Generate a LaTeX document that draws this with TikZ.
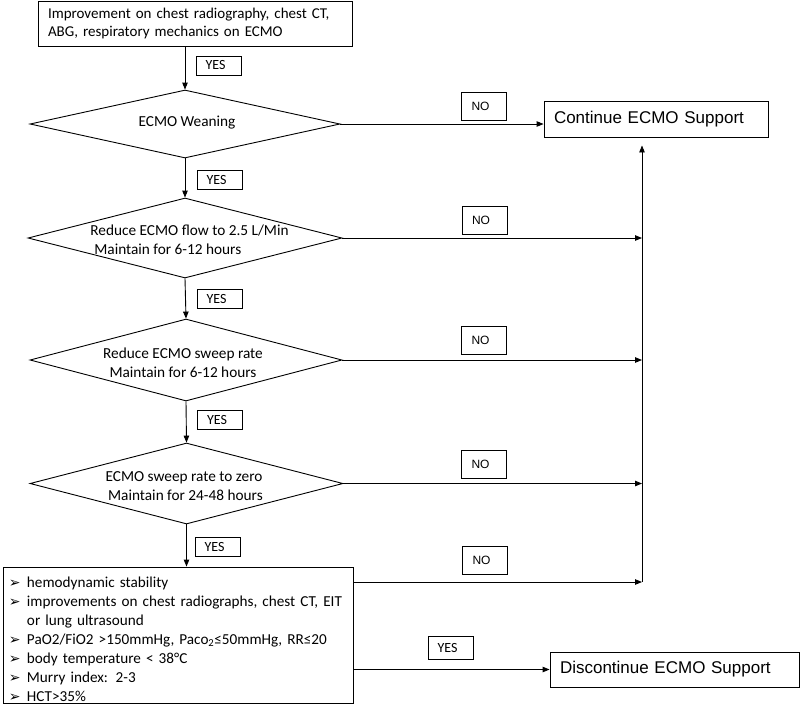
\documentclass[tikz,border=0pt]{standalone}
\usepackage{fontspec}
\setmainfont{Carlito}
\newfontfamily\arialf{Liberation Sans}
\newfontfamily\dejavu{DejaVu Sans}
\usetikzlibrary{shapes.geometric,arrows.meta,calc}
\newcommand{\bul}{\makebox[18pt][l]{\dejavu\fontsize{14}{15}\selectfont ➢}}
\begin{document}
\begin{tikzpicture}[x=1pt,y=-1pt,
  line width=0.9pt,
  box/.style={draw, line width=0.9pt, font=\fontsize{15}{18.5}\selectfont},
  dia/.style={draw, diamond, inner sep=0pt, line width=0.9pt},
  diatext/.style={font=\fontsize{15.3}{19}\selectfont, inner sep=0pt},
  yeslbl/.style={draw, line width=0.9pt, text width=26pt, inner xsep=9.5pt, inner ysep=0pt, minimum height=19pt, align=left, font=\fontsize{14}{15}\selectfont},
  nolbl/.style={draw, line width=0.9pt, text width=25pt, inner xsep=10pt, inner ysep=0pt, minimum height=28pt, align=left, font=\arialf\fontsize{12}{13}\selectfont},
  endbox/.style={draw, line width=0.9pt, inner xsep=10pt, inner ysep=0pt, minimum height=36pt, align=left, font=\arialf\fontsize{17}{20}\selectfont},
  arr/.style={-{Triangle[length=7pt,width=5.5pt]}, line width=0.9pt}
]
\useasboundingbox (0,0) rectangle (800,705);

% top box
\node[box, text width=294pt, inner xsep=10pt, inner ysep=0pt, minimum height=45pt, align=left] (top) at (195,23.5)
  {\mbox{Improvement on chest radiography, chest CT,}\\ABG, respiratory mechanics on ECMO};

% diamonds
\node[dia, minimum width=310pt, minimum height=68pt] (d1) at (185,124) {};
\node[diatext] (d1t) at (187,122.5) {ECMO Weaning};

\node[dia, minimum width=314pt, minimum height=80pt] (d2) at (185,238) {};
\node[diatext, align=left] (d2t) at (189.5,239.5) {Reduce ECMO flow to 2.5 L/Min\\\hspace{4pt}Maintain for 6-12 hours};

\node[dia, minimum width=312pt, minimum height=82pt] (d3) at (186,360) {};
\node[diatext, align=center] (d3t) at (183,362.5) {Reduce ECMO sweep rate\\Maintain for 6-12 hours};

\node[dia, minimum width=313pt, minimum height=81pt] (d4) at (186.5,483.5) {};
\node[diatext, align=center] (d4t) at (184,486) {ECMO sweep rate to zero\\\hspace{3pt}Maintain for 24-48 hours};

% bottom box
\node[box, text width=338pt, inner xsep=6pt, inner ysep=0pt, minimum height=136pt, align=left, font=\fontsize{15.2}{18.9}\selectfont] (bot) at (178,635)
  {\mbox{\rule{0pt}{19pt}\bul hemodynamic stability}\\
   \mbox{\bul improvements on chest radiographs, chest CT, EIT}\\
   \mbox{\hspace*{18pt}or lung ultrasound}\\
   \mbox{\bul PaO2/FiO2 >150mmHg, Paco\textsubscript{2}≤50mmHg, RR≤20}\\
   \mbox{\bul body temperature < 38°C}\\
   \mbox{\bul Murry index: 2-3}\\
   \mbox{\bul HCT>35\%}};

% end boxes
\node[endbox, text width=204pt] (cont) at (656,119) {Continue ECMO Support};
\node[endbox, text width=229pt, minimum height=35pt] (disc) at (674.5,669.5) {Discontinue ECMO Support};

% labels
\node[yeslbl] (y1) at (218.5,65.5) {YES};
\node[yeslbl] (y2) at (219.5,179.5) {YES};
\node[yeslbl] (y3) at (219.5,298.5) {YES};
\node[yeslbl] (y4) at (220,419.5) {YES};
\node[yeslbl] (y5) at (217.5,546.5) {YES};
\node[yeslbl, minimum height=23pt] (y6) at (450.5,647.5) {YES};

\node[nolbl] (n1) at (484,106.5) {NO};
\node[nolbl] (n2) at (484.5,220) {NO};
\node[nolbl] (n3) at (484,340) {NO};
\node[nolbl] (n4) at (484,464.5) {NO};
\node[nolbl] (n5) at (485,560.5) {NO};

% rail
\coordinate (railbot) at (642,582);

% vertical flow
\draw[arr] (d1 |- top.south) -- (d1.north);
\draw[arr] (d1.south) -- (d2.north);
\draw[arr] (d2.south) -- (d3.north);
\draw[arr] (d3.south) -- (d4.north);
\draw[arr] (d4.south) -- (d4.south |- bot.north);

% NO branches
\draw[arr] (d1.east) -- (d1.east -| cont.west);
\draw[arr] (d2.east) -- (d2.east -| railbot);
\draw[arr] (d3.east) -- (d3.east -| railbot);
\draw[arr] (d4.east) -- (d4.east -| railbot);
\draw[arr] (bot.east |- railbot) -- (railbot);
\draw[arr, shorten >=8pt] (railbot) -- (railbot |- cont.south);

% YES to discontinue
\draw[arr] (bot.east |- disc.west) -- (disc.west);
\end{tikzpicture}
\end{document}
